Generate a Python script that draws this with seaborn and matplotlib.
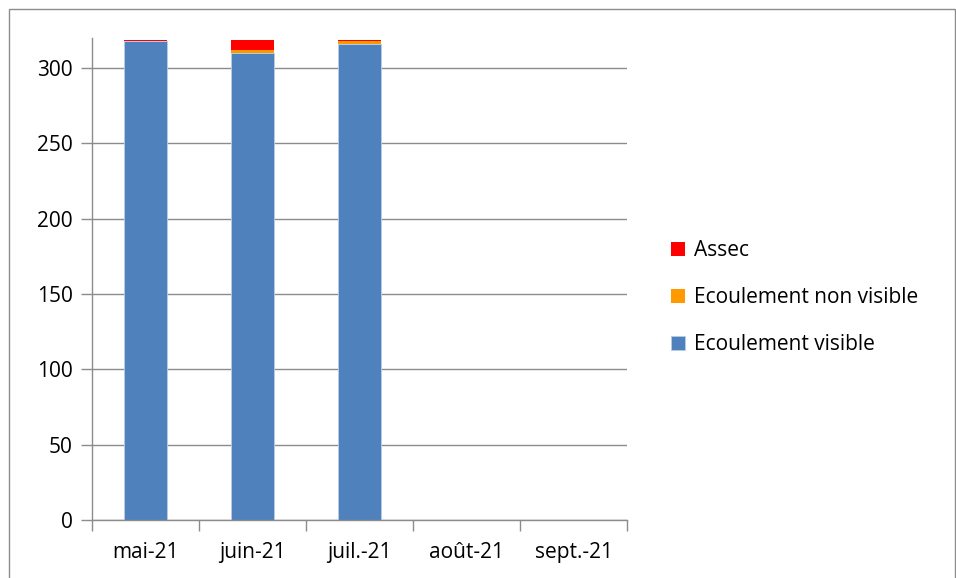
import numpy as np
import pandas as pd
import seaborn as sns
import matplotlib.pyplot as plt
from matplotlib.patches import Rectangle

months = ['mai-21', 'juin-21', 'juil.-21', 'août-21', 'sept.-21']
visible = [318, 310, 316, 0, 0]
non_visible = [0, 2, 2, 0, 0]
assec = [1, 7, 1, 0, 0]

sns.set_style('white')
plt.rcParams['font.family'] = ['Open Sans', 'DejaVu Sans']
plt.rcParams['text.color'] = 'black'

fig = plt.figure(figsize=(9.56, 5.78), dpi=100)
ax = fig.add_axes([92 / 956, 58 / 578, 535 / 956, 482 / 578])

df = pd.DataFrame({'mois': months, 'visible': visible,
                   'non_visible': non_visible, 'assec': assec})
bottom2 = np.array(visible) + np.array(non_visible)

sns.barplot(data=df, x='mois', y='visible', color='#4F81BD', width=0.4,
            saturation=1, edgecolor='#B9CDE5', linewidth=0.6, ax=ax,
            label='Ecoulement visible')
sns.barplot(data=df, x='mois', y='non_visible', color='#FF9900', width=0.4,
            saturation=1, linewidth=0, bottom=visible, ax=ax,
            label='Ecoulement non visible')
sns.barplot(data=df, x='mois', y='assec', color='#FF0000', width=0.4,
            saturation=1, linewidth=0, bottom=bottom2, ax=ax, label='Assec')

ax.set_xlim(-0.5, 4.5)
ax.set_ylim(0, 320)
ax.set_yticks(range(0, 301, 50))
ax.set_xlabel('')
ax.set_ylabel('')
ax.grid(axis='y', color='#8C8C8C', linewidth=1)
ax.set_axisbelow(True)
for s in ['top', 'right']:
    ax.spines[s].set_visible(False)
for s in ['left', 'bottom']:
    ax.spines[s].set_color('#8C8C8C')
    ax.spines[s].set_linewidth(1)

ax.set_xticks(np.arange(-0.5, 4.6, 1), minor=True)
ax.tick_params(axis='x', which='major', length=0, labelsize=15, pad=16,
               labelcolor='black')
ax.tick_params(axis='x', which='minor', bottom=True, length=8, width=1,
               color='#8C8C8C', direction='out')
ax.tick_params(axis='y', length=8, width=1, color='#8C8C8C', labelsize=15,
               pad=6, left=True, labelcolor='black')

handles, labels = ax.get_legend_handles_labels()
ax.legend(handles[::-1], labels[::-1], loc='center left', frameon=False,
          bbox_to_anchor=(652 / 956, 0.485), bbox_transform=fig.transFigure,
          fontsize=15, labelspacing=1.25, handlelength=0.7, handleheight=0.7,
          handletextpad=0.4, labelcolor='black')

fig.patches.append(Rectangle((9 / 956, -0.05), 946 / 956, (569 / 578) + 0.05,
                             transform=fig.transFigure, fill=False,
                             edgecolor='#8C8C8C', linewidth=1))

fig.savefig('out.png', dpi=100)
